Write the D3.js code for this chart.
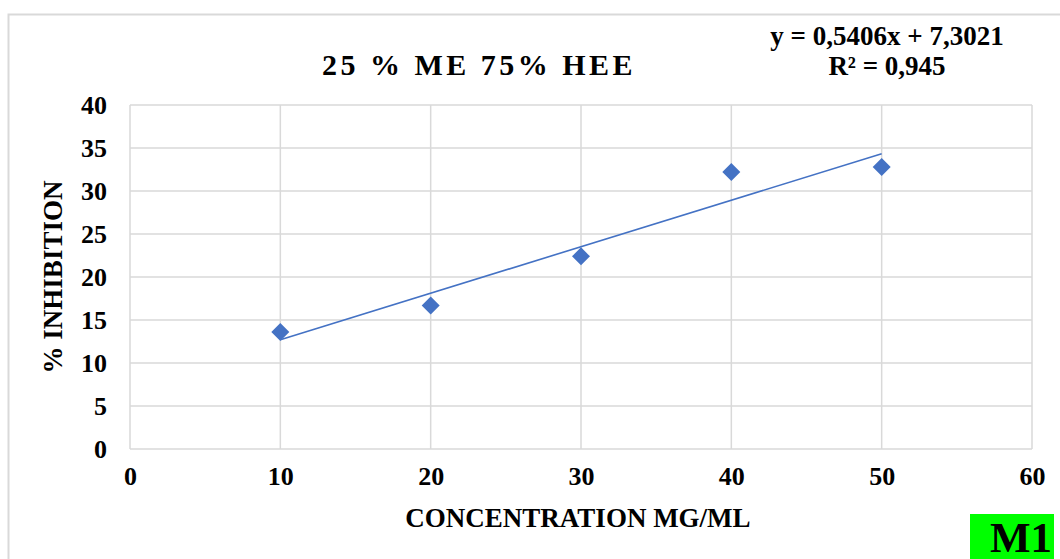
<!DOCTYPE html>
<html>
<head>
<meta charset="utf-8">
<script src="https://cdn.jsdelivr.net/npm/d3@7"></script>
<style>
  html, body { margin: 0; padding: 0; background: #fff; }
  svg text { font-family: "Liberation Serif", "Times New Roman", serif; font-weight: bold; fill: #000; }
</style>
</head>
<body>
<svg id="chart" width="1060" height="559"></svg>
<script>
// concentration (mg/ml) and % inhibition
const concentrations = [10, 20, 30, 40, 50];
const inhibition = [13.6, 16.7, 22.4, 32.2, 32.8];
const xTicks = [0, 10, 20, 30, 40, 50, 60];
const yTicks = [0, 5, 10, 15, 20, 25, 30, 35, 40];
const chartTitle = '25 % ME 75% HEE';
const eqLines = ['y = 0,5406x + 7,3021', 'R² = 0,945'];
const trendCoef = { slope: 0.5406, intercept: 7.3021 };

const width = 1060, height = 559;
const margin = { l: 130, r: 28, t: 105, b: 110 };
const blue = '#4472C4';

const svg = d3.select('#chart');

// outer frame of the chart object
svg.append('rect')
  .attr('x', 8.5).attr('y', 14.5)
  .attr('width', 1100).attr('height', 600)
  .attr('fill', '#fff').attr('stroke', '#d9d9d9').attr('stroke-width', 2);

const xScale = d3.scaleLinear().domain([0, 60]).range([margin.l, width - margin.r]);
const yScale = d3.scaleLinear().domain([0, 40]).range([height - margin.b, margin.t]);

// grid
const grid = svg.append('g');
grid.selectAll('.hgrid').data(yTicks).enter().append('line')
  .attr('x1', xScale(0)).attr('x2', xScale(60))
  .attr('y1', d => yScale(d)).attr('y2', d => yScale(d))
  .attr('stroke', '#d9d9d9').attr('stroke-width', 1.5);
grid.selectAll('.vgrid').data(xTicks).enter().append('line')
  .attr('y1', yScale(0)).attr('y2', yScale(40))
  .attr('x1', d => xScale(d)).attr('x2', d => xScale(d))
  .attr('stroke', '#d9d9d9').attr('stroke-width', 1.5);

// axes, only for labels
const xAxis = svg.append('g')
  .attr('transform', `translate(0,${yScale(0)})`)
  .call(d3.axisBottom(xScale).tickValues(xTicks).tickSize(0).tickPadding(17));
const yAxis = svg.append('g')
  .attr('transform', `translate(${xScale(0)},0)`)
  .call(d3.axisLeft(yScale).tickValues(yTicks).tickSize(0).tickPadding(23));
[xAxis, yAxis].forEach(a => {
  a.select('.domain').remove();
  a.selectAll('text').attr('font-size', 26).attr('font-family', null).style('fill', '#000');
});
xAxis.selectAll('text').attr('dy', '0.72em');

// trendline over data range
const xExt = d3.extent(concentrations);
const trend = xExt.map(x => ({ x: x, y: trendCoef.slope * x + trendCoef.intercept }));
svg.append('path')
  .attr('d', d3.line().x(d => xScale(d.x)).y(d => yScale(d.y))(trend))
  .attr('fill', 'none').attr('stroke', blue).attr('stroke-width', 1.6);

// diamond markers
const pts = concentrations.map((c, i) => ({ x: c, y: inhibition[i] }));
svg.selectAll('.pt').data(pts).enter().append('path')
  .attr('d', 'M0,-9L9,0L0,9L-9,0Z')
  .attr('transform', d => `translate(${xScale(d.x)},${yScale(d.y)})`)
  .attr('fill', blue);

// title
svg.append('text')
  .attr('x', 479).attr('y', 75)
  .attr('text-anchor', 'middle')
  .attr('font-size', 30)
  .attr('letter-spacing', 3.5)
  .text(chartTitle);

// equation
svg.selectAll('.eq').data(eqLines).enter().append('text')
  .attr('x', 887).attr('y', (d, i) => 45 + i * 30)
  .attr('text-anchor', 'middle')
  .attr('font-size', 27)
  .text(d => d);

// axis titles
svg.append('text')
  .attr('x', 578).attr('y', 527)
  .attr('text-anchor', 'middle')
  .attr('font-size', 27)
  .text('CONCENTRATION MG/ML');
svg.append('text')
  .attr('transform', 'translate(62,277) rotate(-90)')
  .attr('text-anchor', 'middle')
  .attr('font-size', 27)
  .text('% INHIBITION');

// M1 tag
svg.append('rect')
  .attr('x', 970).attr('y', 514).attr('width', 84).attr('height', 50)
  .attr('fill', '#00ff00');
svg.append('text')
  .attr('x', 1052).attr('y', 552)
  .attr('text-anchor', 'end')
  .attr('font-size', 43)
  .text('M1');
</script>
</body>
</html>
